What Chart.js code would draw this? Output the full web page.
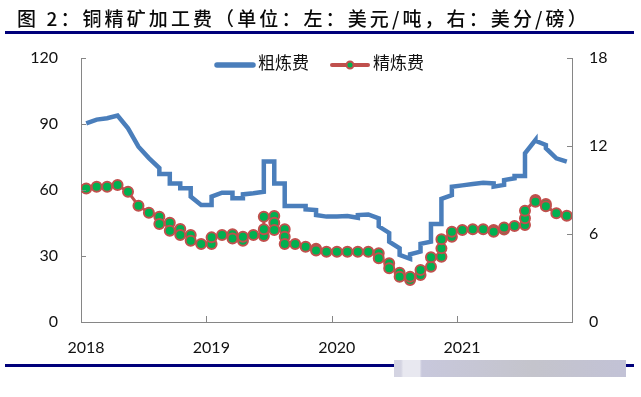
<!DOCTYPE html>
<html>
<head>
<meta charset="utf-8">
<script src="https://cdn.jsdelivr.net/npm/chart.js@4.4.1/dist/chart.umd.min.js"></script>
<style>
  body { margin: 0; background: #fff; }
  #wrap { position: relative; width: 641px; height: 397px; overflow: hidden; background: #fff; }
  #chart { position: absolute; left: 0; top: 0; }
  #title {
    position: absolute; left: 17px; top: 7px;
    font-family: "Noto Sans CJK SC", sans-serif; font-size: 19px; font-weight: 500; line-height: 21px;
    letter-spacing: 3.1px; color: #0a0a0a; white-space: nowrap;
  }
  .rule { position: absolute; left: 5px; width: 629px; height: 3px; background: #00007a; }
  #mask {
    position: absolute; left: 394px; top: 360px; width: 232px; height: 17px;
    background: linear-gradient(to right, #d4d4e2 0%, #d4d4e2 3%, #e8e8f0 4%, #e8e8f0 11%, #c8c8dc 12%, #c4c4cc 60%, #c2c2d6 100%);
  }
</style>
</head>
<body>
<div id="wrap">
  <canvas id="chart" width="641" height="397"></canvas>
  <div id="title">图 2：铜精矿加工费（单位：左：美元/吨，右：美分/磅）</div>
  <div class="rule" style="top:31px"></div>
  <div class="rule" style="top:364px"></div>
  <div id="mask"></div>
</div>
<script>
// x axis: one slot per month, Jan 2018 .. Nov 2021 (weekly quotes share their month's slot)
const yearLabels = ['2018', '2019', '2020', '2021'];
const yearStartSlot = [0, 12, 24, 36];
const monthSlots = 47;

// 粗炼费 TC, USD/t (left axis) - weekly quotes grouped by month
const tcByMonth = [
  [90.3], [92], [92.6], [93.8], [88], [79.7], [74.5],
  [70, 67.3], [67.3, 63], [63, 60.8], [60.8, 57], [53.2],
  [53.2, 57], [58.8], [58.8, 56.2], [56.2, 58], [58.5],
  [59.2, 72.9], [72.9, 63], [63, 52.7], [52.7],
  [52.7, 51.2], [50.9, 48.6], [47.9], [48], [48.2], [47.4, 48.6], [48.9],
  [47.1, 43.5], [40.5, 36.5], [33.5, 30.5], [28.7, 30.8], [32, 35.5], [36.5, 44.5], [44.5, 56], [57.7, 61.5],
  [62.1], [62.7], [63.3], [63, 61.5], [62.3, 64.5], [65.3, 66.4], [66.4, 76.7], [82.7, 82.4], [80.5, 79], [74.4], [72.9]
];

// 精炼费 RC, US cents/lb (right axis)
const rcByMonth = [
  [9.11], [9.22], [9.22], [9.34], [8.88], [7.93], [7.45],
  [7.18, 6.68], [6.77, 6.22], [6.34, 5.93], [5.93, 5.54], [5.32],
  [5.32, 5.77], [5.93], [5.98, 5.7], [5.54, 5.81], [5.93],
  [5.86, 6.32, 7.18], [7.23, 6.77, 6.27], [6.32, 5.81, 5.32], [5.32],
  [5.13], [5.0, 4.88], [4.79], [4.79], [4.79], [4.79], [4.79],
  [4.68, 4.34], [4.0, 3.66], [3.36, 3.09], [2.86, 3.09], [3.2, 3.54], [3.77, 4.41], [4.45, 5.02, 5.64], [5.81, 6.16],
  [6.27], [6.32], [6.32], [6.27, 6.16], [6.3, 6.45], [6.54], [6.61, 7.07, 7.59], [8.32, 8.2], [8.05, 7.9], [7.41], [7.25]
];

function toPoints(byMonth) {
  const pts = [];
  byMonth.forEach((vals, m) => vals.forEach(v => pts.push({ x: m, y: v })));
  return pts;
}

const axisColor = '#868686';
const numFont = { family: 'Lato', size: 16 };

// tick marks drawn inward, like the original
const innerTicks = {
  id: 'innerTicks',
  afterDraw(chart) {
    const { ctx, chartArea: a, scales } = chart;
    ctx.save();
    ctx.strokeStyle = axisColor;
    ctx.lineWidth = 1;
    ctx.beginPath();
    scales.x.ticks.forEach(t => {
      const px = Math.round(scales.x.getPixelForValue(t.value)) + 0.5;
      ctx.moveTo(px, a.bottom); ctx.lineTo(px, a.bottom - 6);
    });
    scales.y.ticks.forEach(t => {
      const py = Math.round(scales.y.getPixelForValue(t.value)) + 0.5;
      ctx.moveTo(a.left, py); ctx.lineTo(a.left + 5, py);
    });
    scales.y1.ticks.forEach(t => {
      const py = Math.round(scales.y1.getPixelForValue(t.value)) + 0.5;
      ctx.moveTo(a.right, py); ctx.lineTo(a.right - 5, py);
    });
    ctx.stroke();
    ctx.restore();
  }
};

// legend sitting inside the plot, top centre
const insideLegend = {
  id: 'insideLegend',
  afterDraw(chart, args, opts) {
    const { ctx, chartArea: a } = chart;
    ctx.save();
    ctx.font = opts.font;
    const items = chart.data.datasets.map(ds => ({ ds, w: ctx.measureText(ds.label).width }));
    const total = items.reduce((s, it) => s + opts.sampleWidth + opts.textGap + it.w, 0) + opts.itemGap * (items.length - 1);
    let x = (a.left + a.right) / 2 - total / 2 + opts.shiftX;
    const y = a.top + opts.offsetY;
    items.forEach(({ ds, w }) => {
      ctx.strokeStyle = ds.borderColor;
      ctx.lineWidth = ds.borderWidth + 1;
      ctx.lineCap = 'round';
      ctx.beginPath();
      ctx.moveTo(x + 2, y); ctx.lineTo(x + opts.sampleWidth - 2, y);
      ctx.stroke();
      if (ds.pointRadius > 0) {
        ctx.beginPath();
        ctx.arc(x + opts.sampleWidth / 2, y, ds.pointRadius - 1.5, 0, Math.PI * 2);
        ctx.fillStyle = ds.pointBackgroundColor;
        ctx.fill();
        ctx.lineWidth = ds.pointBorderWidth;
        ctx.strokeStyle = ds.pointBorderColor;
        ctx.stroke();
      }
      ctx.fillStyle = '#111';
      ctx.textBaseline = 'middle';
      ctx.fillText(ds.label, x + opts.sampleWidth + opts.textGap, y - 2);
      x += opts.sampleWidth + opts.textGap + w + opts.itemGap;
    });
    ctx.restore();
  }
};

new Chart(document.getElementById('chart'), {
  type: 'line',
  data: {
    datasets: [
      {
        label: '粗炼费',
        data: toPoints(tcByMonth),
        yAxisID: 'y',
        borderColor: '#4A7EBB',
        borderWidth: 4.5,
        pointRadius: 0,
        tension: 0,
        fill: false
      },
      {
        label: '精炼费',
        data: toPoints(rcByMonth),
        yAxisID: 'y1',
        borderColor: '#C0504D',
        borderWidth: 3,
        pointRadius: 5,
        pointBorderWidth: 2,
        pointBackgroundColor: '#00B050',
        pointBorderColor: '#C0504D',
        tension: 0,
        fill: false
      }
    ]
  },
  options: {
    responsive: false,
    animation: false,
    events: [],
    layout: { padding: { top: 58, left: 0, right: 0, bottom: 0 } },
    plugins: {
      legend: { display: false },
      tooltip: { enabled: false },
      title: { display: false },
      insideLegend: {
        font: '17px "Noto Sans CJK SC"',
        sampleWidth: 40,
        textGap: 3,
        itemGap: 21,
        shiftX: -7,
        offsetY: 7
      }
    },
    scales: {
      x: {
        type: 'linear',
        min: -0.5,
        max: monthSlots - 0.5,
        afterBuildTicks(scale) {
          scale.ticks = yearStartSlot.map(s => ({ value: s - 0.5 }));
        },
        afterFit(scale) { scale.height = 75; },
        grid: { display: true, drawOnChartArea: false, drawTicks: false },
        border: { display: true, color: axisColor, width: 1 },
        ticks: {
          autoSkip: false,
          maxRotation: 0,
          padding: 16,
          labelOffset: 5,
          color: '#111',
          font: numFont,
          callback: (value, index) => yearLabels[index]
        }
      },
      y: {
        position: 'left',
        min: 0,
        max: 120,
        afterBuildTicks(scale) {
          scale.ticks = [0, 30, 60, 90, 120].map(v => ({ value: v }));
        },
        afterFit(scale) { scale.width = 81; },
        grid: { display: true, drawOnChartArea: false, drawTicks: false },
        border: { display: true, color: axisColor, width: 1 },
        ticks: { padding: 23, color: '#111', font: numFont }
      },
      y1: {
        position: 'right',
        min: 0,
        max: 18,
        afterBuildTicks(scale) {
          scale.ticks = [0, 6, 12, 18].map(v => ({ value: v }));
        },
        afterFit(scale) { scale.width = 69; },
        grid: { display: true, drawOnChartArea: false, drawTicks: false },
        border: { display: true, color: axisColor, width: 1 },
        ticks: { padding: 17, color: '#111', font: numFont }
      }
    }
  },
  plugins: [innerTicks, insideLegend]
});
</script>
</body>
</html>
